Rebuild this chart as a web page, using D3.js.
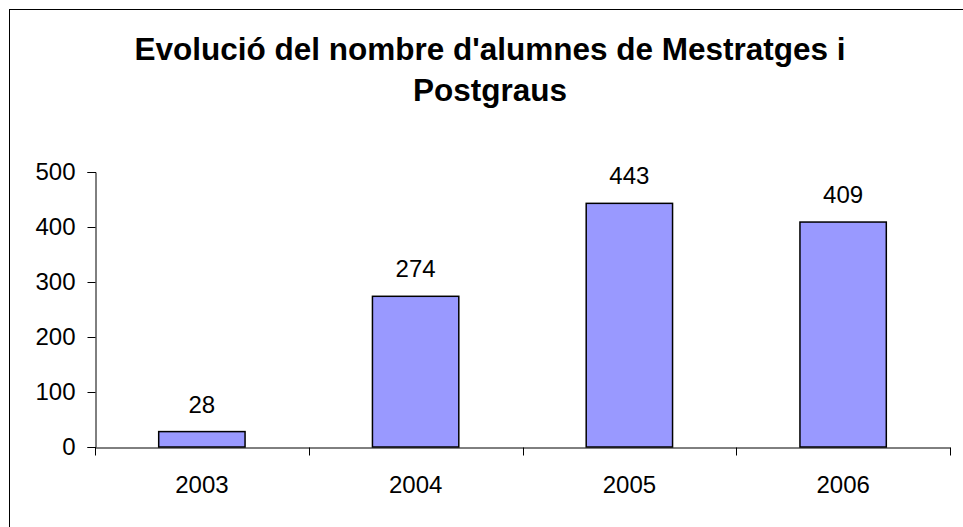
<!DOCTYPE html>
<html>
<head>
<meta charset="utf-8">
<script src="https://cdn.jsdelivr.net/npm/d3@7"></script>
<style>
  html, body { margin: 0; padding: 0; background: #fff; }
  svg { display: block; font-family: "Liberation Sans", Arial, sans-serif; }
</style>
</head>
<body>
<div id="chart"></div>
<script>
// Data
const years = ['2003', '2004', '2005', '2006'];
const students = [28, 274, 443, 409];
const yTicks = [0, 100, 200, 300, 400, 500];
const titleLines = ["Evolució del nombre d'alumnes de Mestratges i", "Postgraus"];

// Layout
const W = 963, H = 527;
const plot = { left: 95, right: 950, top: 172, bottom: 447 };
const labelSize = 24;

const svg = d3.select('#chart').append('svg')
    .attr('width', W)
    .attr('height', H);

// chart area frame (runs past the right and bottom edges)
svg.append('rect')
    .attr('x', 9.5).attr('y', 9.5)
    .attr('width', 961).attr('height', 540)
    .attr('fill', 'none')
    .attr('stroke', '#000')
    .attr('stroke-width', 1);

// Title
svg.append('text')
    .attr('text-anchor', 'middle')
    .attr('font-weight', 'bold')
    .attr('font-size', 31.5)
    .selectAll('tspan')
    .data(titleLines)
    .enter()
    .append('tspan')
    .attr('x', 490)
    .attr('y', (d, i) => 60 + i * 41)
    .text(d => d);

// Scales
const x = d3.scaleBand()
    .domain(years)
    .range([plot.left, plot.right])
    .padding(0);

const y = d3.scaleLinear()
    .domain([0, 500])
    .range([plot.bottom, plot.top]);

const barW = x.bandwidth() * 0.404;

// Bars
svg.selectAll('.bar')
    .data(years)
    .enter()
    .append('rect')
    .attr('class', 'bar')
    .attr('x', d => x(d) + (x.bandwidth() - barW) / 2)
    .attr('y', (d, i) => y(students[i]))
    .attr('width', barW)
    .attr('height', (d, i) => y(0) - y(students[i]))
    .attr('fill', '#9999FF')
    .attr('stroke', '#000')
    .attr('stroke-width', 1.5);

// Value labels
svg.selectAll('.val')
    .data(years)
    .enter()
    .append('text')
    .attr('class', 'val')
    .attr('x', d => x(d) + x.bandwidth() / 2)
    .attr('y', (d, i) => y(students[i]) - 19)
    .attr('text-anchor', 'middle')
    .attr('font-size', labelSize)
    .attr('fill', '#000')
    .text((d, i) => students[i]);

// Y axis
const yAxis = svg.append('g')
    .attr('transform', `translate(${plot.left + 0.5},0)`)
    .call(d3.axisLeft(y).tickValues(yTicks).tickSize(8).tickPadding(12));
yAxis.selectAll('text')
    .attr('font-size', labelSize)
    .attr('font-family', '"Liberation Sans", Arial, sans-serif')
    .attr('fill', '#000');
yAxis.select('.domain').attr('stroke', '#000');
yAxis.selectAll('.tick line').attr('stroke', '#000');
yAxis.selectAll('.tick').attr('transform', d => `translate(0,${Math.round(y(d)) + 0.5})`);

// X axis: labels under each band, ticks on the band edges
const xAxis = svg.append('g')
    .attr('transform', `translate(0,${plot.bottom + 0.5})`)
    .call(d3.axisBottom(x).tickSize(0).tickPadding(28).tickSizeOuter(0));
xAxis.select('.domain').attr('stroke', '#000');
xAxis.selectAll('text')
    .attr('font-size', labelSize)
    .attr('font-family', '"Liberation Sans", Arial, sans-serif')
    .attr('fill', '#000');

const edges = years.map(d => x(d)).concat([x.range()[1]]);
xAxis.selectAll('.edge')
    .data(edges)
    .enter()
    .append('line')
    .attr('class', 'edge')
    .attr('x1', d => Math.round(d) + 0.5)
    .attr('x2', d => Math.round(d) + 0.5)
    .attr('y1', 0)
    .attr('y2', 8)
    .attr('stroke', '#000');
</script>
</body>
</html>
